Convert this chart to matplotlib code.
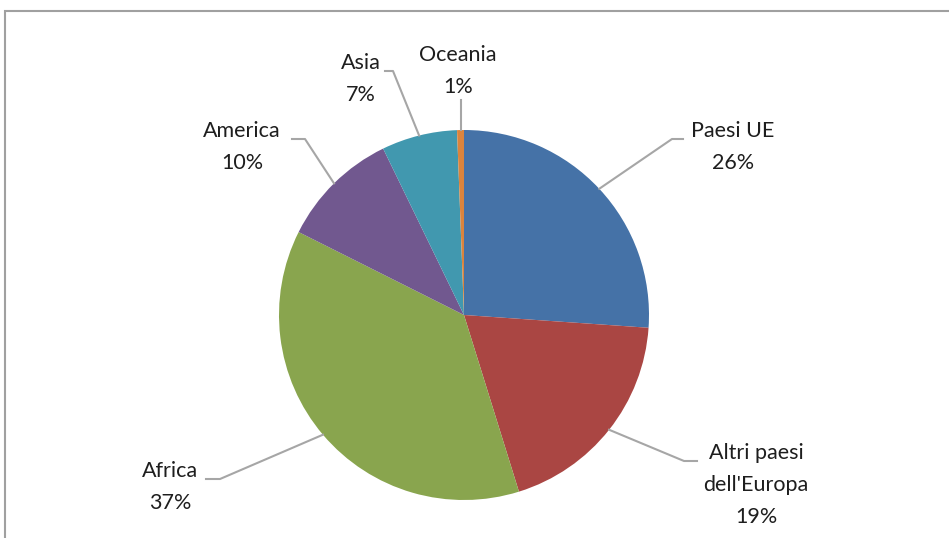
import numpy as np
import matplotlib.pyplot as plt
from matplotlib.patches import Rectangle

# share of foreign residents by area of origin
areas = ["Paesi UE", "Altri paesi\ndell'Europa", "Africa", "America", "Asia", "Oceania"]
shares = [26.1, 19.1, 37.2, 10.4, 6.6, 0.6]
pct_labels = ["26%", "19%", "37%", "10%", "7%", "1%"]
colors = ["#4572a7", "#aa4643", "#89a54e", "#71588f", "#4198af", "#db843d"]

# label layout in pixel coords (x center, y of first line, elbow x start, elbow x end)
label_pos = [(733, 131, 683, 672), (756, 453, 697, 684), (170, 471, 206, 220),
             (242, 131, 292, 305), (361, 63, 385, 393), (458, 55, None, None)]

W, H = 949, 538
fig = plt.figure(figsize=(W / 100, H / 100), dpi=100)
ax = fig.add_axes([0, 0, 1, 1])

# frame of the chart area
ax.add_patch(Rectangle((5, -20), W + 20, H - 11 + 20, fill=False,
                       edgecolor="#a0a0a0", linewidth=1.5))

cx, cy, r = 464, H - 315, 185
wedges, _ = ax.pie(shares, colors=colors, startangle=90, counterclock=False,
                   center=(cx, cy), radius=r, frame=True,
                   wedgeprops=dict(linewidth=0))
ax.set_xlim(0, W)
ax.set_ylim(0, H)
ax.set_aspect("equal")
ax.axis("off")

font = dict(family=["Lato", "DejaVu Sans"], fontsize=15.5, color="#1e1e1e")
line_h = 32
for w, name, pct, (lx, ly, ex1, ex2) in zip(wedges, areas, pct_labels, label_pos):
    lines = name.split("\n") + [pct]
    for i, t in enumerate(lines):
        ax.text(lx, H - (ly + i * line_h), t, ha="center", va="center", **font)
    ang = np.deg2rad((w.theta1 + w.theta2) / 2)
    px, py = cx + r * np.cos(ang), cy + r * np.sin(ang)
    if ex1 is None:
        ax.plot([px, px], [py, H - 100], color="#a6a6a6", lw=1.5)
    else:
        ey = H - (ly + 8)
        ax.plot([ex1, ex2, px], [ey, ey, py], color="#a6a6a6", lw=1.5)

fig.savefig("out.png", dpi=100)
